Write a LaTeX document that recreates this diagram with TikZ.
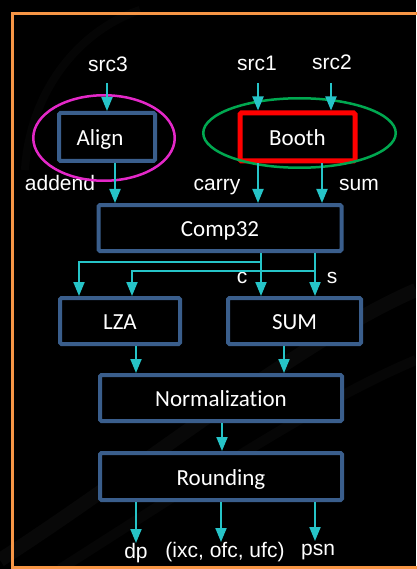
\documentclass[tikz,border=0pt]{standalone}
\usepackage{fontspec}
\setmainfont{Liberation Sans}
\newfontfamily\boxfont[Ligatures=NoCommon]{Carlito}
\usetikzlibrary{arrows.meta,shapes.geometric}

\definecolor{frameorange}{RGB}{247,150,70}
\definecolor{blockblue}{RGB}{58,94,140}
\definecolor{wirecyan}{RGB}{38,196,200}
\definecolor{ringpink}{RGB}{228,40,200}
\definecolor{ringgreen}{RGB}{0,168,80}
\definecolor{boothred}{RGB}{255,0,0}

\tikzset{
  block/.style={draw=blockblue, line width=4pt, fill=black, rounded corners=1.5pt,
    font=\boxfont\fontsize{23}{23}\selectfont, text=white,
    text height=17pt, text depth=0pt, inner sep=0pt},
  lbl/.style={text=white, font=\fontsize{21}{21}\selectfont, anchor=base, inner sep=0pt},
  ring/.style={ellipse, draw, line width=2.5pt, inner sep=0pt},
  arr/.style={draw=wirecyan, line width=2pt, -{Triangle[length=14pt,width=11pt]}},
}

\begin{document}
\begin{tikzpicture}[x=1pt,y=-1pt]
  % dark backdrop with faint streaks
  \fill[black] (0,0) rectangle (416,569);
  \useasboundingbox (0,0) rectangle (416,569);
  \draw[white, opacity=0.03, line width=14pt] (0,560) .. controls (140,470) and (300,340) .. (416,290);
  \draw[white, opacity=0.025, line width=10pt] (60,569) .. controls (200,480) and (320,400) .. (416,360);
  \draw[white, opacity=0.02, line width=8pt] (25,170) .. controls (30,90) and (80,30) .. (140,10);

  % orange frame
  \draw[frameorange, line width=3pt] (12,13.5) rectangle (440,567);

  % blocks
  \node[block, minimum width=96pt, minimum height=48pt] (align) at (107,137) {\hspace*{-14pt}Align};
  \node[block, draw=boothred, line width=5pt, minimum width=115pt, minimum height=48pt] (booth) at (297.5,137) {Booth};
  \node[block, minimum width=243pt, minimum height=46pt] (comp) at (220,228) {Comp32};
  \node[block, minimum width=120pt, minimum height=46pt] (lza) at (120,321) {LZA};
  \node[block, minimum width=133pt, minimum height=46pt] (sum) at (294.5,321) {SUM};
  \node[block, minimum width=242pt, minimum height=46pt] (norm) at (221,398) {Normalization};
  \node[block, minimum width=242pt, minimum height=47pt] (round) at (221,476.5) {Rounding};

  % signal labels
  \node[lbl] (src3) at (108,72) {src3};
  \node[lbl] (src1) at (257,71) {src1};
  \node[lbl] (src2) at (332,70) {src2};
  \node[lbl] (addend) at (60,190) {addend};
  \node[lbl] (carry) at (217,190) {carry};
  \node[lbl] (sumlbl) at (359,190) {sum};
  \node[lbl] (clbl) at (242,283) {c};
  \node[lbl] (slbl) at (332,283) {s};
  \node[lbl] (dp) at (136,558) {dp};
  \node[lbl] (flags) at (225,557) {(ixc, ofc, ufc)};
  \node[lbl] (psn) at (318,555) {psn};

  % grouping rings
  \node[ring, draw=ringpink, minimum width=141.5pt, minimum height=85.5pt] (alignring) at (104,138) {};
  \node[ring, draw=ringgreen, minimum width=192.5pt, minimum height=69.5pt] (boothring) at (299.5,133) {};

  % inputs
  \coordinate (in3) at (107,83);
  \coordinate (in1) at (258,83);
  \coordinate (in2) at (331,83);
  \draw[arr] (in3) -- (align.north -| in3);
  \draw[arr] (in1) -- (booth.north -| in1);
  \draw[arr] (in2) -- (booth.north -| in2);

  % into the compressor
  \draw[arr] (align.south -| 115,0) -- (comp.north -| 115,0);
  \draw[arr] (booth.south -| 258,0) -- (comp.north -| 258,0);
  \draw[arr] (booth.south -| 322,0) -- (comp.north -| 322,0);

  % carry and sum vectors
  \draw[arr] (comp.south -| 261,0) -- (sum.north -| 261,0);
  \draw[arr] (comp.south -| 315,0) -- (sum.north -| 315,0);
  \coordinate (cbr) at (261,262);
  \coordinate (sbr) at (315,271);
  \draw[arr] (cbr) -| (lza.north -| 79,0);
  \draw[arr] (sbr) -| (lza.north -| 132,0);

  % normalization and rounding
  \draw[arr] (lza.south -| 136,0) -- (norm.north -| 136,0);
  \draw[arr] (sum.south -| 284,0) -- (norm.north -| 284,0);
  \draw[arr] (norm.south -| 222,0) -- (round.north -| 222,0);

  % outputs
  \coordinate (odp) at (136,543);
  \coordinate (oflags) at (221,542);
  \coordinate (opsn) at (315,541);
  \draw[arr] (round.south -| odp) -- (odp);
  \draw[arr] (round.south -| oflags) -- (oflags);
  \draw[arr] (round.south -| opsn) -- (opsn);
\end{tikzpicture}
\end{document}
